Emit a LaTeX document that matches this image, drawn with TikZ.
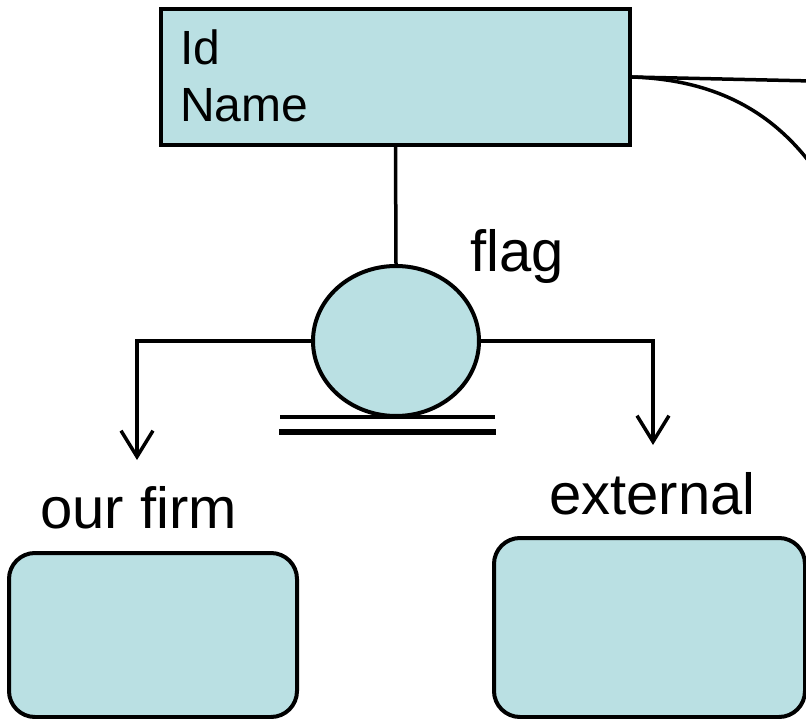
\documentclass[tikz,border=0pt]{standalone}
\usepackage{fontspec}
\setmainfont{Liberation Sans}
\usetikzlibrary{shapes.geometric,arrows.meta}
\definecolor{entityfill}{HTML}{BAE0E3}
\tikzset{
  x=1pt, y=-1pt,
  entity/.style={draw, line width=4pt, fill=entityfill, inner sep=0pt},
  subtype/.style={draw, line width=4pt, fill=entityfill, rounded corners=26pt},
  link/.style={line width=3.5pt},
  lbl/.style={font=\fontsize{58}{66}\selectfont, inner sep=0pt},
  attr/.style={font=\fontsize{48}{56}\selectfont, inner sep=0pt},
  barb/.style={-{Straight Barb[length=26pt,width=32pt,line width=3.5pt]}}
}
\begin{document}
\begin{tikzpicture}
\useasboundingbox (0,0) rectangle (806,719);
\begin{scope}
\clip (0,0) rectangle (806,719);

% supertype entity
\node[entity, minimum width=469pt, minimum height=136pt] (idbox) at (395.5,77) {};
\node[attr, anchor=base west] (idtxt) at (180,65) {Id};
\node[attr, anchor=base west] (nametxt) at (180,122) {Name};

% relationships leaving to the right
\coordinate (farA) at (812,81);
\coordinate (farB) at (814,168);
\draw[link] (idbox.east) -- (farA);
\draw[link] (idbox.east) .. controls (720,80) and (775,115) .. (farB);

% discriminator
\node[draw, ellipse, line width=4pt, fill=entityfill, minimum width=166pt, minimum height=150pt, inner sep=0pt] (flagnode) at (396,341) {};
\node[lbl, anchor=base west] (flagtxt) at (470,272) {flag};
\draw[link] (idbox.south) -- (flagnode.north);

% exclusivity bars
\coordinate (barAl) at (280,417);
\coordinate (barAr) at (495,417);
\coordinate (barBl) at (279,432);
\coordinate (barBr) at (496,432);
\draw[line width=3.5pt] (barAl) -- (barAr);
\draw[line width=5.5pt] (barBl) -- (barBr);

% branches to the subtypes
\coordinate (tipL) at (137,460);
\coordinate (tipR) at (653,445);
\draw[link, barb] (flagnode.west) -| (tipL);
\draw[link, barb] (flagnode.east) -| (tipR);

\node[lbl, anchor=base west] (firmtxt) at (40,528) {our firm};
\node[lbl, anchor=base west] (exttxt) at (549,514) {external};

% subtype entities
\draw[subtype] (9,553) rectangle (297,717);
\draw[subtype] (494,538) rectangle (805,717);
\end{scope}
\end{tikzpicture}
\end{document}
